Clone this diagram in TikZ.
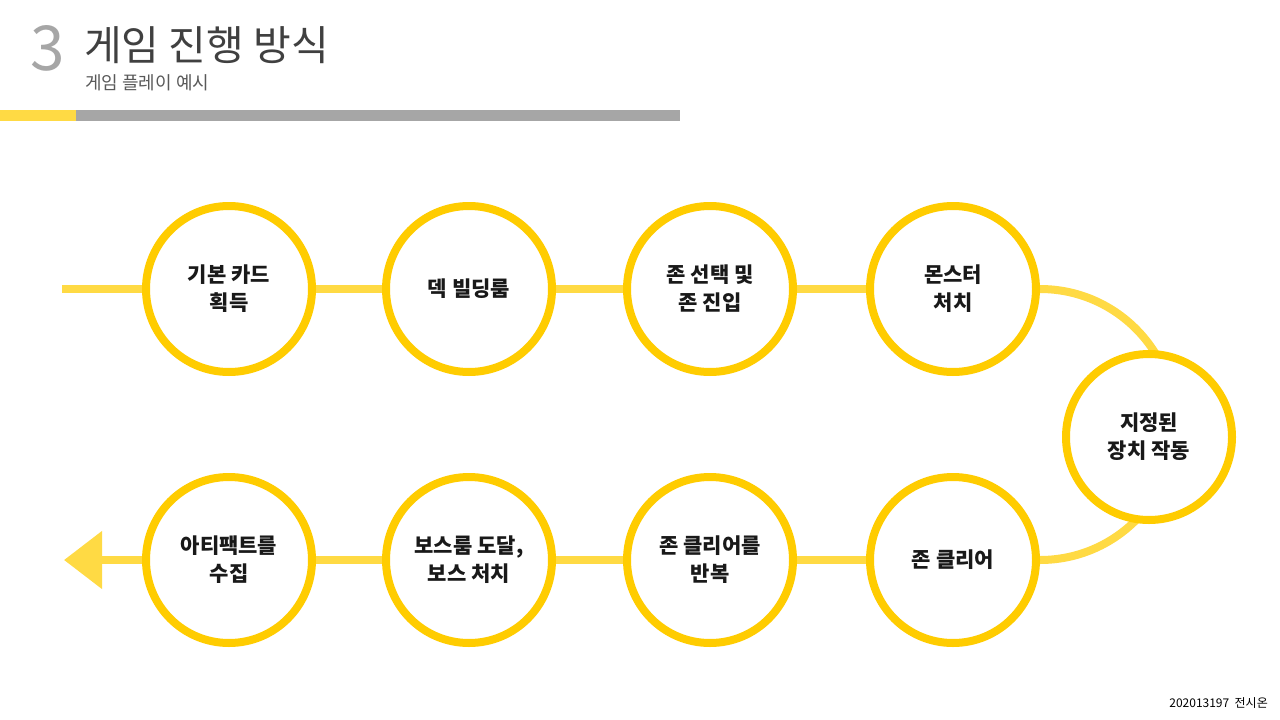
\documentclass[tikz,border=0pt]{standalone}
\usepackage{fontspec}
\newfontfamily\kr{Noto Sans CJK KR}
\usetikzlibrary{arrows.meta,backgrounds}
\definecolor{gold}{RGB}{255,204,0}
\definecolor{lightgold}{RGB}{255,218,68}
\definecolor{bargray}{RGB}{166,166,166}
\definecolor{titlegray}{RGB}{64,64,64}
\definecolor{subgray}{RGB}{89,89,89}
\begin{document}
\begin{tikzpicture}[x=1pt,y=-1pt,
  stage/.style={circle,draw=gold,line width=8pt,fill=white,minimum size=166pt,inner sep=0pt,align=center,
    font=\kr\bfseries\fontsize{21}{28}\selectfont,text=black!90},
  link/.style={draw=lightgold,line width=8pt}]
\useasboundingbox (0,0) rectangle (1280,720);
% header
\node[anchor=base west,inner sep=0pt,text=bargray,font=\kr\fontsize{62}{62}\selectfont] (num) at (30,70) {3};
\node[anchor=base west,inner sep=0pt,text=titlegray,font=\kr\fontsize{41}{41}\selectfont] (title) at (84,60) {게임 진행 방식};
\node[anchor=base west,inner sep=0pt,text=subgray,font=\kr\fontsize{18}{18}\selectfont] (sub) at (85,89) {게임 플레이 예시};
\fill[lightgold] (0,110) rectangle (76,121);
\fill[bargray] (76,110) rectangle (680,121);
% stages
\node[stage] (c1) at (229,289) {기본 카드\\획득};
\node[stage] (c2) at (469,289) {덱 빌딩룸};
\node[stage] (c3) at (710,289) {존 선택 및\\존 진입};
\node[stage] (c4) at (953,289) {몬스터\\처치};
\node[stage] (c5) at (1149,437) {지정된\\장치 작동};
\node[stage] (c6) at (953,560) {존 클리어};
\node[stage] (c7) at (710,560) {존 클리어를\\반복};
\node[stage] (c8) at (469,560) {보스룸 도달,\\보스 처치};
\node[stage] (c9) at (229,560) {아티팩트를\\수집};
\coordinate (start) at (62,289);
\coordinate (tip) at (64,560);
\begin{scope}[on background layer]
\fill[white] (0,0) rectangle (1280,720);
\draw[link] (start) -- (c1.center) -- (c2.center) -- (c3.center) -- (c4.center);
\draw[link] (c4.center) -- ++(87,0) arc(-90:90:135.5) -- (c6.center);
\draw[link] (c6.center) -- (c7.center) -- (c8.center) -- (c9.center);
\draw[link,-{Triangle[length=38pt,width=56pt]}] (c9.center) -- (tip);
\end{scope}
\node[anchor=base east,inner sep=0pt,text=black,font=\kr\fontsize{12}{12}\selectfont] (author) at (1268,707) {202013197\ \ 전시온};
\end{tikzpicture}
\end{document}
